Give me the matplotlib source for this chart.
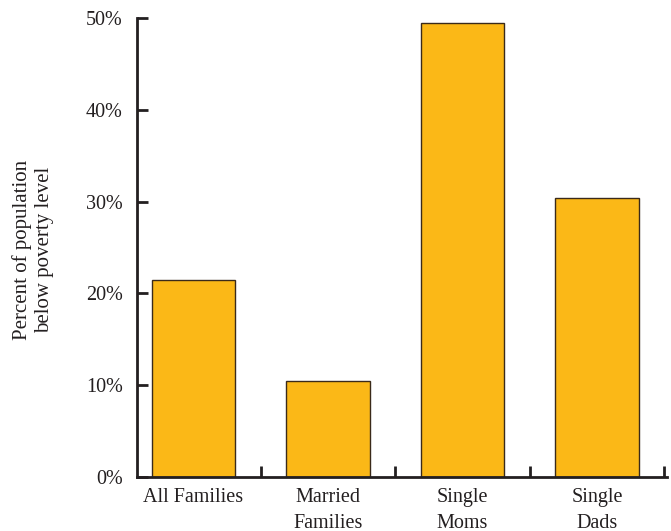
import matplotlib
matplotlib.use("Agg")
import matplotlib.pyplot as plt
from matplotlib.ticker import FuncFormatter

categories = ["All Families", "Married\nFamilies", "Single\nMoms", "Single\nDads"]
values = [21.5, 10.5, 49.5, 30.4]
yticks = [0, 10, 20, 30, 40, 50]

plt.rcParams['font.family'] = ['Liberation Serif', 'DejaVu Serif']

fig = plt.figure(figsize=(6.71, 5.31), dpi=100)
ax = fig.add_axes([0.204, 0.1017, 0.79, 0.8643])

x = list(range(len(categories)))
ax.bar(x, values, width=0.62, color="#FBB817", edgecolor="#3a2a1a", linewidth=1.0)

ax.set_xlim(-0.42, 3.52)
ax.set_ylim(0, 50)
ax.set_yticks(yticks)
ax.yaxis.set_major_formatter(FuncFormatter(lambda v, p: f"{int(v)}%"))
ax.set_xticks([i + 0.5 for i in range(len(categories))])
ax.set_xticklabels([])
ax.set_xticks(x, minor=True)
ax.set_xticklabels(categories, minor=True)
ax.tick_params(axis='x', which='minor', length=0, pad=8, labelsize=14.5, colors="#231f20")
ax.tick_params(axis='x', which='major', direction='in', length=8, width=2, color="#231f20")
ax.tick_params(axis='y', direction='in', length=8, width=2, color="#231f20", labelsize=14.5, labelcolor="#231f20", pad=10)
for lab in ax.get_xticklabels(minor=True):
    lab.set_linespacing(1.5)
    lab.set_verticalalignment('top')

for s in ['top', 'right']:
    ax.spines[s].set_visible(False)
for s in ['left', 'bottom']:
    ax.spines[s].set_linewidth(2)
    ax.spines[s].set_color("#231f20")

fig.text(0.049, 0.53, "Percent of population\nbelow poverty level", rotation=90,
         ha='center', va='center', fontsize=15, color="#231f20", linespacing=1.2)

fig.savefig("out.png", dpi=100)
